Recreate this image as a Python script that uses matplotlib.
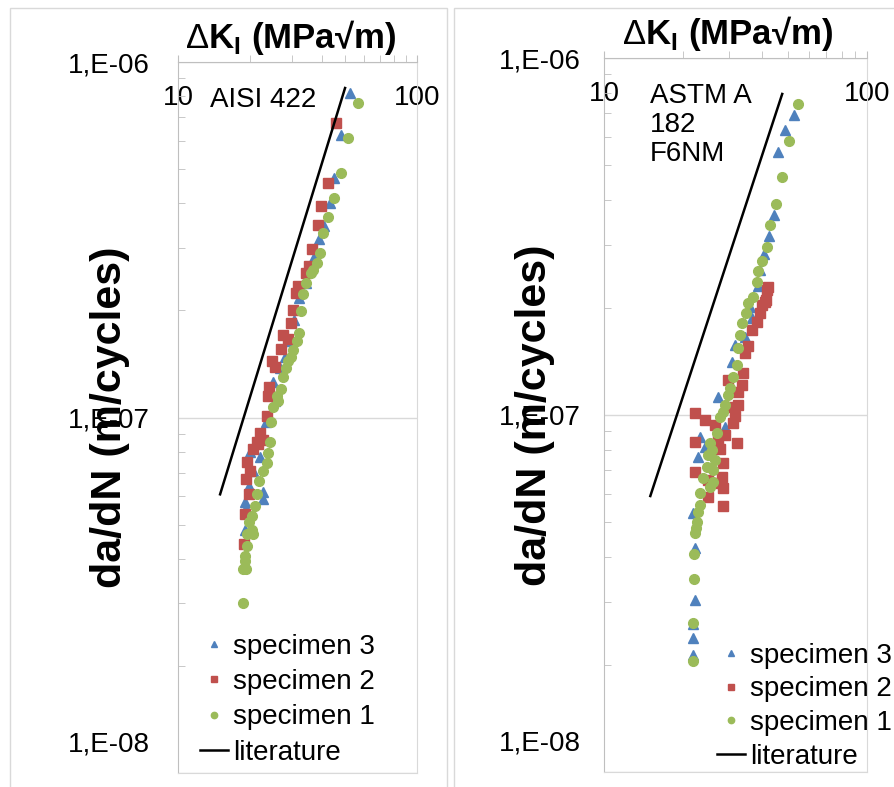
import matplotlib
matplotlib.use('Agg')
import matplotlib.pyplot as plt
from matplotlib.patches import Rectangle
from matplotlib.ticker import LogLocator, NullFormatter

plt.rcParams['font.family'] = ['Liberation Sans', 'DejaVu Sans']
plt.rcParams['mathtext.fontset'] = 'custom'
plt.rcParams['mathtext.rm'] = 'Liberation Sans'
plt.rcParams['mathtext.bf'] = 'Liberation Sans:bold'

BLUE = '#4F81BD'
RED = '#C0504D'
GREEN = '#9BBB59'
GRID = '#d9d9d9'

# --- AISI 422 (left panel) ---
aisi_s3_dk = [52.4, 48.1, 45.0, 43.3, 40.8, 38.9, 37.1, 35.7, 34.3, 32.1, 30.6, 29.7, 28.0, 26.7,
              25.0, 25.5, 23.3, 22.0, 20.0, 22.0, 20.6, 19.8, 22.7, 22.7, 19.1, 19.25, 19.1]
aisi_s3_dadn = [8.18e-7, 6.23e-7, 4.72e-7, 4.02e-7, 3.46e-7, 3.18e-7, 2.83e-7, 2.60e-7, 2.39e-7,
                2.17e-7, 1.88e-7, 1.64e-7, 1.48e-7, 1.38e-7, 1.26e-7, 1.11e-7, 9.74e-8, 9.07e-8,
                8.02e-8, 7.72e-8, 7.05e-8, 6.40e-8, 6.16e-8, 5.89e-8, 5.77e-8, 5.58e-8, 4.84e-8]

aisi_s2_dk = [45.8, 42.4, 39.7, 38.5, 36.4, 35.3, 34.3, 31.8, 31.2, 30.3, 29.7, 27.5, 28.9, 27.0,
              24.7, 25.5, 24.0, 23.8, 23.6, 22.0, 22.7, 21.4, 20.6, 21.6, 19.4, 20.0, 19.25, 19.8,
              19.1, 18.9]
aisi_s2_dadn = [6.74e-7, 4.57e-7, 3.94e-7, 3.48e-7, 2.98e-7, 2.66e-7, 2.55e-7, 2.35e-7, 2.24e-7,
                2.01e-7, 1.85e-7, 1.71e-7, 1.66e-7, 1.56e-7, 1.44e-7, 1.39e-7, 1.22e-7, 1.15e-7,
                1.01e-7, 9.07e-8, 8.67e-8, 8.51e-8, 8.13e-8, 8.40e-8, 7.52e-8, 7.05e-8, 6.70e-8,
                6.08e-8, 5.34e-8, 4.40e-8]

aisi_s1_dk = [56.6, 51.4, 48.1, 45.0, 42.4, 40.4, 39.3, 38.2, 36.7, 36.0, 34.3, 33.3, 32.7, 32.1,
              31.5, 30.3, 29.7, 28.9, 28.3, 27.5, 27.0, 26.0, 26.2, 25.0, 24.5, 24.3, 23.8, 23.6,
              22.7, 21.8, 21.4, 21.0, 20.4, 19.8, 20.4, 20.6, 19.4, 19.4, 19.1, 19.1, 19.25, 18.7,
              18.7]
aisi_s1_dadn = [7.67e-7, 6.11e-7, 4.88e-7, 4.15e-7, 3.67e-7, 3.31e-7, 2.91e-7, 2.72e-7, 2.60e-7,
                2.55e-7, 2.39e-7, 2.23e-7, 1.99e-7, 1.73e-7, 1.64e-7, 1.55e-7, 1.48e-7, 1.44e-7,
                1.38e-7, 1.30e-7, 1.20e-7, 1.15e-7, 1.11e-7, 1.07e-7, 9.74e-8, 8.56e-8, 7.97e-8,
                7.47e-8, 7.05e-8, 6.61e-8, 6.08e-8, 5.62e-8, 5.27e-8, 5.07e-8, 4.84e-8, 4.69e-8,
                4.69e-8, 4.34e-8, 4.07e-8, 3.94e-8, 3.74e-8, 3.74e-8, 3.00e-8]

aisi_lit_dk = [15.0, 50.0]
aisi_lit_dadn = [6.08e-8, 8.45e-7]

# --- ASTM A182 F6NM (right panel) ---
f6nm_s3_dk = [52.8, 48.8, 45.9, 44.3, 42.4, 40.6, 39.2, 38.5, 35.9, 36.5, 34.4, 31.5, 30.7, 27.1,
              28.9, 23.2, 24.2, 22.8, 21.8, 22.2, 22.2, 21.8, 21.8, 21.8]
f6nm_s3_dadn = [6.92e-7, 6.29e-7, 5.45e-7, 3.63e-7, 3.17e-7, 2.82e-7, 2.55e-7, 2.30e-7, 2.01e-7,
                1.87e-7, 1.65e-7, 1.57e-7, 1.41e-7, 1.12e-7, 9.26e-8, 8.68e-8, 8.14e-8, 7.63e-8,
                5.31e-8, 4.24e-8, 3.03e-8, 2.60e-8, 2.37e-8, 2.13e-8]

f6nm_s2_dk = [42.1, 41.7, 41.3, 40.9, 39.9, 39.2, 38.2, 36.5, 35.3, 34.4, 33.8, 29.6, 33.5, 32.3,
              32.3, 30.1, 22.2, 31.5, 24.2, 30.9, 26.4, 28.9, 27.1, 22.2, 32.0, 27.6, 28.3, 22.2,
              28.1, 24.9, 26.0, 28.3, 24.9, 28.3]
f6nm_s2_dadn = [2.28e-7, 2.24e-7, 2.10e-7, 2.07e-7, 2.03e-7, 1.93e-7, 1.82e-7, 1.73e-7, 1.56e-7,
                1.49e-7, 1.31e-7, 1.25e-7, 1.21e-7, 1.16e-7, 1.07e-7, 1.05e-7, 1.01e-7, 9.94e-8,
                9.68e-8, 9.50e-8, 9.38e-8, 8.79e-8, 8.51e-8, 8.40e-8, 8.35e-8, 8.03e-8, 7.34e-8,
                6.92e-8, 6.71e-8, 6.57e-8, 6.45e-8, 6.24e-8, 5.89e-8, 5.56e-8]

f6nm_s1_dk = [54.7, 50.5, 47.5, 45.1, 42.8, 41.7, 39.9, 38.5, 38.2, 36.9, 35.3, 34.7, 33.5, 32.9,
              32.3, 32.0, 30.9, 30.1, 29.6, 28.9, 28.3, 27.6, 26.9, 25.3, 25.7, 24.9, 26.4, 24.6,
              26.0, 23.8, 26.0, 25.3, 23.2, 23.2, 22.8, 22.6, 22.4, 22.2, 22.0, 22.0, 21.8, 21.8]
f6nm_s1_dadn = [7.43e-7, 5.85e-7, 4.64e-7, 3.90e-7, 3.40e-7, 2.96e-7, 2.70e-7, 2.53e-7, 2.36e-7,
                2.14e-7, 2.06e-7, 1.93e-7, 1.81e-7, 1.68e-7, 1.54e-7, 1.38e-7, 1.28e-7, 1.19e-7,
                1.14e-7, 1.07e-7, 1.02e-7, 9.87e-8, 8.91e-8, 8.35e-8, 7.98e-8, 7.73e-8, 7.48e-8,
                7.15e-8, 7.01e-8, 6.66e-8, 6.49e-8, 6.28e-8, 6.05e-8, 5.59e-8, 5.35e-8, 5.01e-8,
                4.83e-8, 4.67e-8, 4.08e-8, 3.47e-8, 2.61e-8, 2.05e-8]

f6nm_lit_dk = [15.0, 47.6]
f6nm_lit_dadn = [5.93e-8, 7.93e-7]

ytick_vals = [1e-8, 1e-7, 1e-6]
ytick_labels = ['', '1,E-07', '1,E-06']
ybottom_label = '1,E-08'
xtick_vals = [10, 100]
xtick_labels = ['10', '100']

fig = plt.figure(figsize=(8.94, 7.87), dpi=100)
fig.patches.append(Rectangle((10 / 894, -0.01), 437 / 894, 1.01 - 8 / 787, transform=fig.transFigure,
                             fill=False, edgecolor=GRID, lw=1))
fig.patches.append(Rectangle((454 / 894, -0.01), 0.6, 1.01 - 8 / 787, transform=fig.transFigure,
                             fill=False, edgecolor=GRID, lw=1))

ax1 = fig.add_axes([178 / 894, 1 - 773 / 787, 239 / 894, 711 / 787])
ax2 = fig.add_axes([604 / 894, 1 - 772 / 787, 263 / 894, 714 / 787])


def style(ax, ypad):
    ax.set_xscale('log')
    ax.set_yscale('log')
    ax.set_xlim(10, 100)
    ax.set_ylim(1e-8, 1e-6)
    for s in ax.spines.values():
        s.set_color(GRID)
    ax.spines['top'].set_color('#bfbfbf')
    ax.spines['left'].set_color('#bfbfbf')
    ax.xaxis.tick_top()
    ax.set_xticks(xtick_vals, labels=xtick_labels)
    ax.xaxis.set_minor_locator(LogLocator(base=10, subs=range(2, 10)))
    ax.xaxis.set_minor_formatter(NullFormatter())
    ax.tick_params(axis='x', which='major', direction='out', length=5, color='#bfbfbf',
                   pad=-40, labelsize=20)
    ax.tick_params(axis='x', which='minor', direction='out', length=5, color='#bfbfbf')
    ax.set_yticks(ytick_vals, labels=ytick_labels)
    ax.yaxis.set_minor_locator(LogLocator(base=10, subs=range(2, 10)))
    ax.yaxis.set_minor_formatter(NullFormatter())
    ax.tick_params(axis='y', which='major', length=0, pad=ypad, labelsize=20)
    ax.tick_params(axis='y', which='minor', direction='in', length=5, color='#bfbfbf')
    ax.grid(True, axis='y', which='major', color=GRID, lw=1)
    ax.set_axisbelow(True)
    # bottom tick label sits a little above the axis bottom in the original
    ax.text(-ypad * 1.389 / (ax.get_position().width * 894), 0.04, ybottom_label,
            transform=ax.transAxes, ha='right', va='center', fontsize=20)
    ax.text(0.47, 1.034, r'$\Delta\mathbf{K}_\mathbf{I}$ (MPa√m)', transform=ax.transAxes,
            ha='center', va='center', fontsize=25, fontweight='bold')


def draw(ax, s3, s2, s1, lit):
    ax.plot(*s3, ls='none', marker='^', ms=7, color=BLUE, label='specimen 3')
    ax.plot(*s2, ls='none', marker='s', ms=6.5, color=RED, label='specimen 2')
    ax.plot(*s1, ls='none', marker='o', ms=7, color=GREEN, label='specimen 1')
    ax.plot(*lit, color='black', lw=1.8, label='literature')


style(ax1, 20)
style(ax2, 17)
draw(ax1, (aisi_s3_dk, aisi_s3_dadn), (aisi_s2_dk, aisi_s2_dadn), (aisi_s1_dk, aisi_s1_dadn),
     (aisi_lit_dk, aisi_lit_dadn))
draw(ax2, (f6nm_s3_dk, f6nm_s3_dadn), (f6nm_s2_dk, f6nm_s2_dadn), (f6nm_s1_dk, f6nm_s1_dadn),
     (f6nm_lit_dk, f6nm_lit_dadn))

ax1.text(-0.285, 0.5, 'da/dN (m/cycles)', transform=ax1.transAxes, rotation=90,
         ha='center', va='center', fontsize=31, fontweight='bold')
ax2.text(-0.262, 0.5, 'da/dN (m/cycles)', transform=ax2.transAxes, rotation=90,
         ha='center', va='center', fontsize=31, fontweight='bold')

ax1.text(0.134, 0.947, 'AISI 422', transform=ax1.transAxes, ha='left', va='center', fontsize=20)
ax2.text(0.175, 0.965, 'ASTM A\n182\nF6NM', transform=ax2.transAxes, ha='left', va='top',
         fontsize=20, linespacing=1.15)

for ax, x0, y0, sp in [(ax1, 200 / 894, 1 - 634 / 787, 0.33), (ax2, 717 / 894, 1 - 643 / 787, 0.27)]:
    ax.legend(loc='upper left', bbox_to_anchor=(x0, y0), bbox_transform=fig.transFigure,
              frameon=False, fontsize=20, borderpad=0, borderaxespad=0, handlelength=1.0,
              handletextpad=0.2, labelspacing=sp, markerscale=0.65)

fig.savefig('out.png', dpi=100, facecolor='white')
